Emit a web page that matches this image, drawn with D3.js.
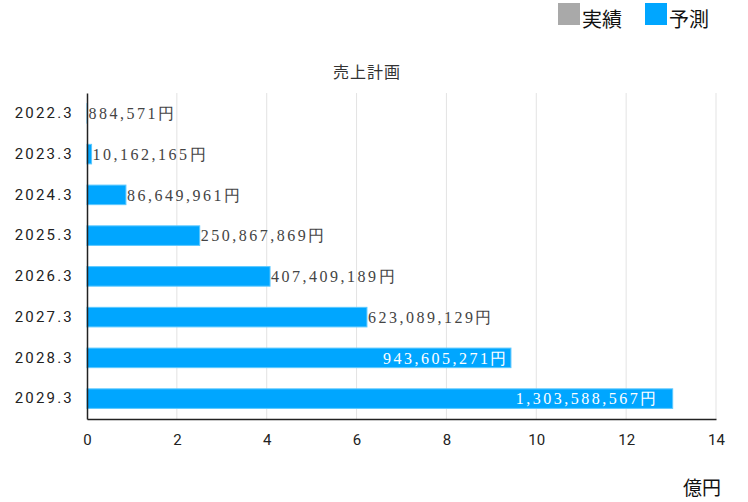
<!DOCTYPE html>
<html>
<head>
<meta charset="utf-8">
<script src="https://cdn.jsdelivr.net/npm/d3@7"></script>
<style>
  body { margin: 0; background: #fff; }
  svg { display: block; }
</style>
</head>
<body>
<div id="chart"></div>
<script>
// 売上計画 chart data
var years = ["2022.3", "2023.3", "2024.3", "2025.3", "2026.3", "2027.3", "2028.3", "2029.3"];
var sales = [884571, 10162165, 86649961, 250867869, 407409189, 623089129, 943605271, 1303588567];
var xTicks = [0, 2, 4, 6, 8, 10, 12, 14];
var legendNames = ["実績", "予測"];
var legendColors = ["#a9a9a9", "#00a6ff"];

var WIDTH = 748, HEIGHT = 502;
var margin = { left: 87, right: 32, top: 93, bottom: 83 };
var plotW = WIDTH - margin.left - margin.right;
var plotH = HEIGHT - margin.top - margin.bottom;

var svg = d3.select("#chart").append("svg")
    .attr("width", WIDTH)
    .attr("height", HEIGHT);

var x = d3.scaleLinear().domain([0, 14]).range([0, plotW]);
var y = d3.scaleBand().domain(years).range([0, plotH]).paddingInner(0.52).paddingOuter(0.26);

var g = svg.append("g").attr("transform", "translate(" + margin.left + "," + margin.top + ")");

// grid lines
g.selectAll("line.grid")
    .data(xTicks.slice(1))
    .enter()
    .append("line")
    .attr("class", "grid")
    .attr("x1", function(d) { return x(d); })
    .attr("x2", function(d) { return x(d); })
    .attr("y1", 0)
    .attr("y2", plotH)
    .attr("stroke", "#e3e3e3")
    .attr("stroke-width", 1);

// bars
g.selectAll("rect.bar")
    .data(sales)
    .enter()
    .append("rect")
    .attr("class", "bar")
    .attr("x", 0)
    .attr("y", function(d, i) { return y(years[i]); })
    .attr("width", function(d) { return x(d / 1e8); })
    .attr("height", y.bandwidth())
    .attr("fill", "#00a6ff")
    .attr("stroke", "#5cc8ff")
    .attr("stroke-width", 1);

// value labels (inside the bar once the bar gets long)
var fmt = d3.format(",");
var inside = function(d) { return x(d / 1e8) > 380; };
g.selectAll("text.val")
    .data(sales)
    .enter()
    .append("text")
    .attr("class", "val")
    .attr("x", function(d) {
        var w = x(d / 1e8);
        if (!inside(d)) return w + 1;
        return w > 550 ? w - 14 : w - 2;
    })
    .attr("y", function(d, i) { return y(years[i]) + y.bandwidth() / 2; })
    .attr("dy", "0.36em")
    .attr("text-anchor", function(d) { return inside(d) ? "end" : "start"; })
    .attr("font-family", "'Liberation Serif', 'DejaVu Serif', serif")
    .attr("font-size", 16)
    .style("letter-spacing", "2.5px")
    .attr("fill", function(d) { return inside(d) ? "#fff" : "#444"; })
    .text(function(d) { return fmt(d) + "円"; });

// axes
var xAxis = g.append("g")
    .attr("transform", "translate(0," + plotH + ")")
    .call(d3.axisBottom(x).tickValues(xTicks).tickSize(0).tickPadding(15));
xAxis.select(".domain").attr("stroke", "#222").attr("stroke-width", 1.5);
xAxis.selectAll("text")
    .attr("font-family", "Roboto, sans-serif")
    .attr("font-size", 15)
    .attr("fill", "#222");

var yAxis = g.append("g")
    .call(d3.axisLeft(y).tickSize(0).tickPadding(13));
yAxis.select(".domain").attr("stroke", "#222").attr("stroke-width", 1.5);
yAxis.selectAll("text")
    .attr("font-family", "Roboto, sans-serif")
    .attr("font-size", 15)
    .style("letter-spacing", "2.2px")
    .attr("fill", "#222");

// title
svg.append("text")
    .attr("x", 367)
    .attr("y", 78)
    .attr("text-anchor", "middle")
    .attr("font-family", "'Noto Sans CJK JP', sans-serif")
    .attr("font-size", 16)
    .style("letter-spacing", "1px")
    .attr("fill", "#333")
    .text("売上計画");

// unit label
svg.append("text")
    .attr("x", 721)
    .attr("y", 495)
    .attr("text-anchor", "end")
    .attr("font-family", "'Noto Sans CJK JP', sans-serif")
    .attr("font-size", 19)
    .attr("fill", "#111")
    .text("億円");

// legend
var legendX = [558, 645];
var legend = svg.selectAll("g.legend")
    .data(legendNames)
    .enter()
    .append("g")
    .attr("class", "legend")
    .attr("transform", function(d, i) { return "translate(" + legendX[i] + ",3)"; });
legend.append("rect")
    .attr("width", 22)
    .attr("height", 22)
    .attr("fill", function(d, i) { return legendColors[i]; });
legend.append("text")
    .attr("x", 24)
    .attr("y", 24)
    .attr("font-family", "'Noto Sans CJK JP', sans-serif")
    .attr("font-size", 20)
    .attr("fill", "#111")
    .text(function(d) { return d; });
</script>
</body>
</html>
